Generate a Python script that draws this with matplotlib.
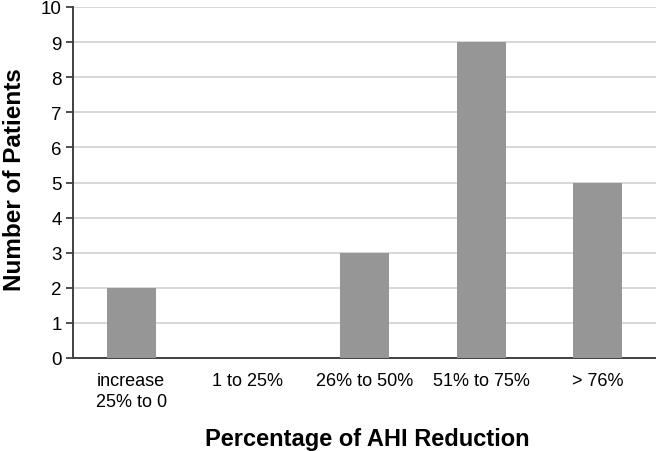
import matplotlib
matplotlib.use("Agg")
import matplotlib.pyplot as plt
import numpy as np

# Data ########################################################################

categories = ["increase\n25% to 0", "1 to 25%", "26% to 50%", "51% to 75%", "> 76%"]
patients = [2, 0, 3, 9, 5]

# Plot ########################################################################

plt.rcParams['font.family'] = ['Liberation Sans Narrow', 'Liberation Sans', 'DejaVu Sans']

W, H = 656, 452
fig = plt.figure(figsize=(W/100, H/100), dpi=100)
ax = fig.add_axes([73/W, 1 - 359/H, (W - 73)/W, (359 - 8)/H])

x = np.arange(len(categories))
ax.bar(x, patients, width=0.42, color='#969696', zorder=3)

ax.set_xlim(-0.5, len(categories) - 0.5)
ax.set_ylim(0, 10)
ax.set_yticks(np.arange(0, 11, 1))
ax.yaxis.grid(True, color='#d4d4d4', linewidth=1.3, zorder=0)

ax.set_xticks(x)
ax.set_xticklabels(categories, fontsize=13, linespacing=1.35)
ax.tick_params(axis='x', length=0, pad=10)
ax.tick_params(axis='y', labelsize=13.5, length=5, width=1.3, color='#404040', pad=3)

for s in ['top', 'right']:
    ax.spines[s].set_visible(False)
for s in ['left', 'bottom']:
    ax.spines[s].set_color('#404040')
    ax.spines[s].set_linewidth(1.4)

# axis titles placed in figure coordinates
fig.text(367/W, 6/H, 'Percentage of AHI Reduction', fontsize=17, fontweight='bold',
         ha='center', va='baseline')
fig.text(15/W, 1 - 180/H, 'Number of Patients', fontsize=17.5, fontweight='bold',
         rotation=90, ha='center', va='center')

plt.savefig('out.png', dpi=100)
